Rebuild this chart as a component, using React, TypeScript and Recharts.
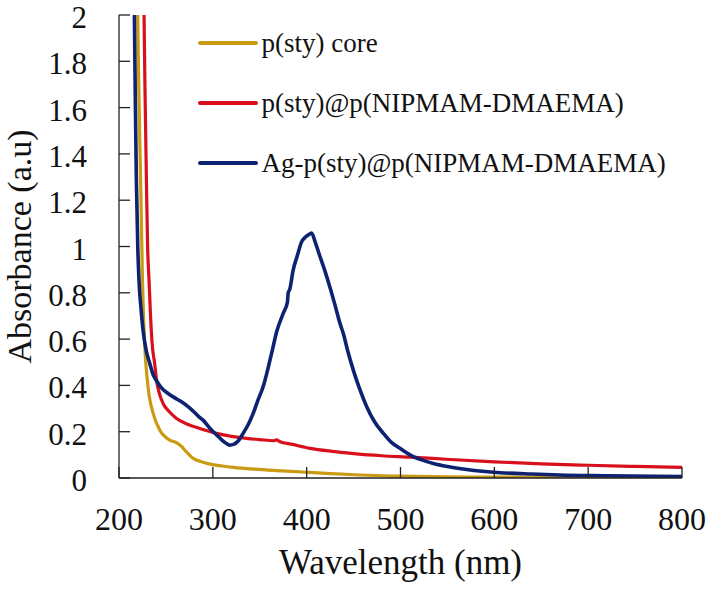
import React from 'react';
import { LineChart, Line, XAxis, YAxis, Legend, Label } from 'recharts';

const coreX = [219.6, 220, 221.5, 223, 225, 227.4, 230, 232, 236.3, 243.4, 254, 260, 263, 267, 270, 275, 279, 288, 297, 310, 322, 345, 368, 395, 421, 457, 500, 550, 600, 700, 800];
const coreY = [2.2, 2.0, 1.6, 1.29, 0.86, 0.57, 0.43, 0.36, 0.28, 0.207, 0.164, 0.155, 0.148, 0.135, 0.121, 0.1, 0.085, 0.07, 0.06, 0.052, 0.046, 0.038, 0.032, 0.026, 0.02, 0.013, 0.008, 0.005, 0.004, 0.003, 0.002];

const shellX = [226.3, 226.7, 228, 229.2, 230.5, 232, 233.5, 235.6, 238, 240, 243.4, 247, 254, 261, 273, 286, 304, 320, 336, 350, 365, 368, 371, 385, 403.5, 430, 453, 480, 510, 553, 600, 650, 700, 750, 800];
const shellY = [2.2, 2.0, 1.6, 1.29, 1.0, 0.855, 0.71, 0.567, 0.495, 0.423, 0.36, 0.322, 0.285, 0.258, 0.232, 0.214, 0.193, 0.18, 0.171, 0.166, 0.161, 0.165, 0.158, 0.145, 0.128, 0.114, 0.104, 0.096, 0.09, 0.08, 0.07, 0.061, 0.055, 0.05, 0.046];

const agX = [215.8, 216.4, 217.5, 218.5, 220, 221.3, 223.5, 225.6, 229, 232.8, 236, 240, 245, 252, 260, 267, 273.6, 280, 285, 289.6, 296.8, 304, 310, 315, 318, 322, 327, 332.3, 337.6, 343, 348, 353.6, 362.6, 368, 375, 379.5, 380.3, 382, 385.6, 390, 394.6, 399, 403.5, 405.3, 409, 414.1, 419, 424.8, 430, 435.5, 439, 444, 449.7, 456, 464, 472, 481.7, 490, 499.5, 513.7, 525, 535, 550, 570.6, 606, 640, 670, 720, 800];
const agY = [2.3, 2.0, 1.6, 1.29, 1.0, 0.855, 0.73, 0.64, 0.55, 0.495, 0.45, 0.42, 0.39, 0.366, 0.345, 0.328, 0.308, 0.285, 0.265, 0.25, 0.215, 0.186, 0.163, 0.148, 0.142, 0.145, 0.16, 0.193, 0.23, 0.279, 0.335, 0.394, 0.538, 0.632, 0.711, 0.76, 0.8, 0.815, 0.898, 0.96, 1.02, 1.042, 1.055, 1.058, 1.02, 0.958, 0.9, 0.824, 0.75, 0.668, 0.625, 0.545, 0.466, 0.39, 0.308, 0.245, 0.193, 0.155, 0.128, 0.092, 0.075, 0.063, 0.05, 0.037, 0.023, 0.017, 0.013, 0.01, 0.006];

const xTicks = [200, 300, 400, 500, 600, 700, 800];
const yTicks = [0, 0.2, 0.4, 0.6, 0.8, 1, 1.2, 1.4, 1.6, 1.8, 2];
const yTickLabels = ['0', '0.2', '0.4', '0.6', '0.8', '1', '1.2', '1.4', '1.6', '1.8', '2'];

const seriesNames = ['p(sty) core', 'p(sty)@p(NIPMAM-DMAEMA)', 'Ag-p(sty)@p(NIPMAM-DMAEMA)'];
const seriesColors = ['#C99A12', '#D8101C', '#0D2270'];

const toPoints = (xs: number[], ys: number[]) => xs.map((x, i) => ({ x, y: ys[i] }));
const coreData = toPoints(coreX, coreY);
const shellData = toPoints(shellX, shellY);
const agData = toPoints(agX, agY);

const FONT = '"Liberation Serif", "Times New Roman", serif';
const AXIS = '#222';

const XTick = (props: any) => {
  const { x, y, payload } = props;
  return (
    <g>
      <line x1={x} y1={y} x2={x} y2={y - 11} stroke={AXIS} strokeWidth={1.3} />
      <text x={x} y={y + 52} textAnchor="middle" fontFamily={FONT} fontSize={32} fill="#111">
        {payload.value}
      </text>
    </g>
  );
};

const YTick = (props: any) => {
  const { x, y, payload } = props;
  const idx = yTicks.indexOf(payload.value);
  const label = idx >= 0 ? yTickLabels[idx] : String(payload.value);
  return (
    <g>
      <line x1={x} y1={y} x2={x + 11} y2={y} stroke={AXIS} strokeWidth={1.3} />
      <text x={x - 32} y={y + 13} textAnchor="end" fontFamily={FONT} fontSize={31} fill="#111">
        {label}
      </text>
    </g>
  );
};

const renderLegend = () => (
  <div style={{ display: 'flex', flexDirection: 'column' }}>
    {seriesNames.map((name, i) => (
      <div key={name} style={{ display: 'flex', alignItems: 'center', height: 60 }}>
        <div style={{ width: 60, height: 4, background: seriesColors[i], borderRadius: 2 }} />
        <span style={{ marginLeft: 3.5, fontFamily: FONT, fontSize: 27, color: '#111', whiteSpace: 'nowrap', lineHeight: 'normal' }}>
          {name}
        </span>
      </div>
    ))}
  </div>
);

export default function App() {
  return (
    <div style={{ position: 'absolute', left: 0, top: 0, width: 708, height: 589, background: '#fff' }}>
      <LineChart width={708} height={589} margin={{ top: 15, right: 26, left: 0, bottom: 0 }}>
        <XAxis
          type="number"
          dataKey="x"
          domain={[200, 800]}
          ticks={xTicks}
          interval={0}
          allowDataOverflow
          height={111}
          tickSize={0}
          tickMargin={0}
          axisLine={{ stroke: AXIS, strokeWidth: 1.3 }}
          tickLine={false}
          tick={<XTick />}
        >
          <Label
            content={(p: any) => {
              const vb = p.viewBox || { x: 119, y: 478, width: 563, height: 111 };
              return (
                <text x={vb.x + vb.width / 2} y={vb.y + 96} textAnchor="middle" fontFamily={FONT} fontSize={35} fill="#111">
                  Wavelength (nm)
                </text>
              );
            }}
          />
        </XAxis>
        <XAxis
          xAxisId="top"
          orientation="top"
          type="number"
          dataKey="x"
          domain={[200, 800]}
          height={0}
          tick={false}
          tickLine={false}
          axisLine={{ stroke: AXIS, strokeWidth: 1.3 }}
        />
        <YAxis
          type="number"
          domain={[0, 2]}
          ticks={yTicks}
          interval={0}
          allowDataOverflow
          width={119}
          tickSize={0}
          tickMargin={0}
          axisLine={{ stroke: AXIS, strokeWidth: 1.3 }}
          tickLine={false}
          tick={<YTick />}
        >
          <Label
            content={(p: any) => {
              const vb = p.viewBox || { x: 0, y: 15, width: 119, height: 463 };
              const cx = vb.x + 30.5;
              const cy = vb.y + vb.height / 2;
              return (
                <text x={cx} y={cy} transform={`rotate(-90, ${cx}, ${cy})`} textAnchor="middle" fontFamily={FONT} fontSize={34} fill="#111">
                  Absorbance (a.u)
                </text>
              );
            }}
          />
        </YAxis>
        <YAxis
          yAxisId="right"
          orientation="right"
          type="number"
          domain={[0, 2]}
          width={0}
          tick={false}
          tickLine={false}
          axisLine={{ stroke: AXIS, strokeWidth: 1.3 }}
        />
        <Legend
          layout="vertical"
          align="center"
          verticalAlign="middle"
          content={renderLegend}
          wrapperStyle={{ left: 198, top: 13, width: 500, height: 180 }}
        />
        <Line data={coreData} dataKey="y" name={seriesNames[0]} type="monotone" stroke={seriesColors[0]} strokeWidth={3.2} dot={false} isAnimationActive={false} />
        <Line data={shellData} dataKey="y" name={seriesNames[1]} type="monotone" stroke={seriesColors[1]} strokeWidth={3.2} dot={false} isAnimationActive={false} />
        <Line data={agData} dataKey="y" name={seriesNames[2]} type="monotone" stroke={seriesColors[2]} strokeWidth={3.6} dot={false} isAnimationActive={false} />
      </LineChart>
    </div>
  );
}
